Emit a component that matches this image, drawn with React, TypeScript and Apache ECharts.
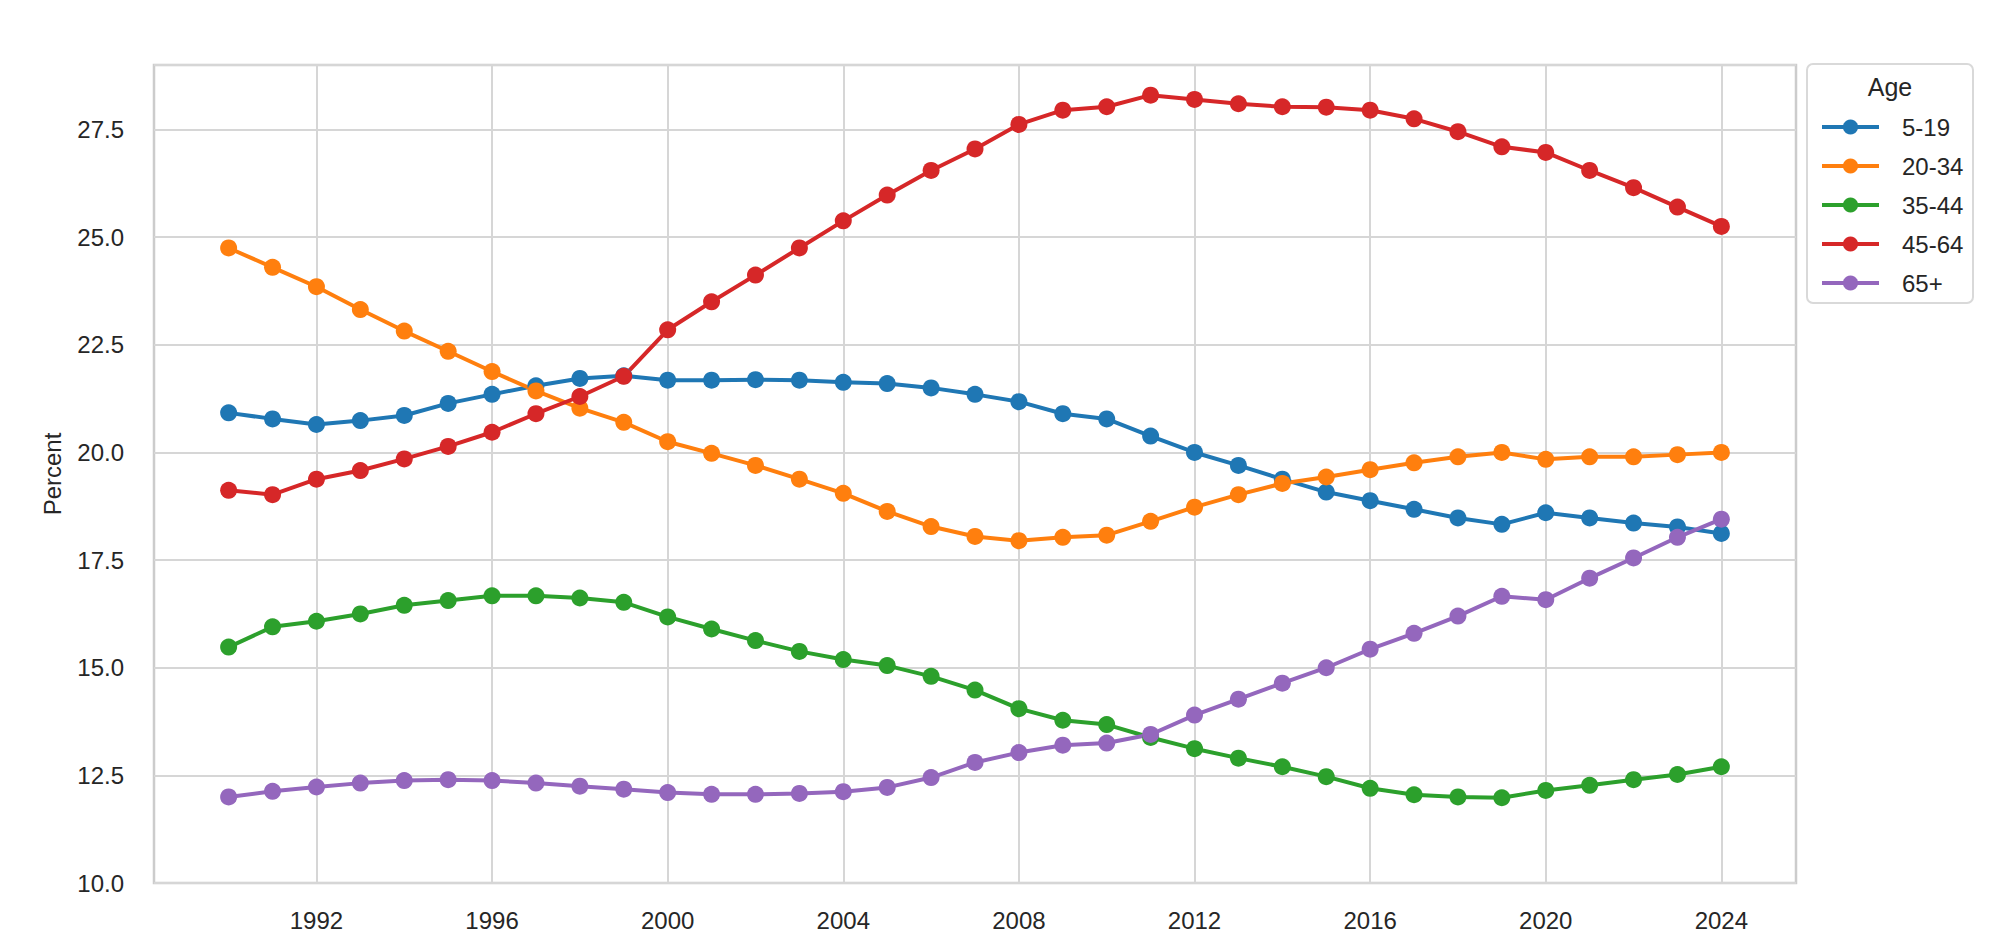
import React, { useEffect, useRef } from "react";
import * as echarts from "echarts";

const years = [1990, 1991, 1992, 1993, 1994, 1995, 1996, 1997, 1998, 1999, 2000, 2001, 2002, 2003, 2004, 2005, 2006, 2007, 2008, 2009, 2010, 2011, 2012, 2013, 2014, 2015, 2016, 2017, 2018, 2019, 2020, 2021, 2022, 2023, 2024];

const age5to19 = [20.92, 20.78, 20.65, 20.74, 20.86, 21.14, 21.35, 21.55, 21.72, 21.78, 21.68, 21.68, 21.69, 21.68, 21.63, 21.6, 21.5, 21.35, 21.18, 20.9, 20.78, 20.38, 20.0, 19.7, 19.38, 19.08, 18.88, 18.68, 18.48, 18.33, 18.6, 18.48, 18.36, 18.27, 18.12];
const age20to34 = [24.75, 24.3, 23.85, 23.32, 22.82, 22.35, 21.88, 21.43, 21.03, 20.7, 20.25, 19.98, 19.7, 19.38, 19.05, 18.63, 18.28, 18.05, 17.95, 18.03, 18.08, 18.4, 18.73, 19.02, 19.28, 19.43, 19.6, 19.76, 19.9, 20.0, 19.84, 19.9, 19.9, 19.95, 20.0];
const age35to44 = [15.48, 15.95, 16.08, 16.25, 16.45, 16.56, 16.67, 16.67, 16.62, 16.52, 16.18, 15.9, 15.63, 15.38, 15.19, 15.05, 14.8, 14.48, 14.05, 13.78, 13.68, 13.38, 13.12, 12.9, 12.7, 12.47, 12.2, 12.05, 12.0, 11.98, 12.15, 12.27, 12.4, 12.52, 12.7];
const age45to64 = [19.12, 19.02, 19.38, 19.58, 19.85, 20.14, 20.47, 20.9, 21.3, 21.77, 22.85, 23.5, 24.12, 24.75, 25.38, 25.98, 26.55, 27.05, 27.62, 27.95, 28.03, 28.3, 28.2, 28.1, 28.03, 28.02, 27.95, 27.75, 27.45, 27.1, 26.97, 26.55, 26.15, 25.7, 25.25];
const age65plus = [12.0, 12.13, 12.23, 12.32, 12.38, 12.4, 12.38, 12.32, 12.25, 12.18, 12.1, 12.06, 12.06, 12.08, 12.12, 12.22, 12.45, 12.8, 13.03, 13.2, 13.25, 13.45, 13.9, 14.27, 14.64, 15.0, 15.43, 15.8, 16.2, 16.66, 16.58, 17.08, 17.55, 18.03, 18.45];

const seriesNames = ["5-19", "20-34", "35-44", "45-64", "65+"];
const seriesValues = [age5to19, age20to34, age35to44, age45to64, age65plus];
const seriesColors = ["#1f77b4", "#ff7f0e", "#2ca02c", "#d62728", "#9467bd"];
const xTicks = [1992, 1996, 2000, 2004, 2008, 2012, 2016, 2020, 2024];
const legendTitle = "Age";
const yAxisTitle = "Percent";

const FONT = "Liberation Sans, Arial, sans-serif";
const TEXT = "#262626";

export default function App() {
  const ref = useRef<HTMLDivElement>(null);
  useEffect(() => {
    if (!ref.current) return;
    const chart = echarts.init(ref.current, undefined, { renderer: "svg" });
    chart.setOption({
      animation: false,
      backgroundColor: "#ffffff",
      textStyle: { fontFamily: FONT },
      grid: {
        left: 154,
        right: 204,
        top: 65,
        bottom: 65,
        show: true,
        borderColor: "#cccccc",
        borderWidth: 2.5,
      },
      xAxis: {
        type: "value",
        min: 1988.3,
        max: 2025.7,
        axisLine: { show: false },
        axisTick: { show: false, customValues: xTicks },
        axisLabel: {
          customValues: xTicks,
          fontSize: 24,
          color: TEXT,
          margin: 25,
          fontFamily: FONT,
          formatter: (v: number) => String(v),
        },
        splitLine: { show: true, lineStyle: { color: "#d6d6d6", width: 2 } },
      },
      yAxis: {
        type: "value",
        min: 10,
        max: 29,
        interval: 2.5,
        axisLine: { show: false },
        axisTick: { show: false },
        axisLabel: {
          fontSize: 24,
          color: TEXT,
          margin: 30,
          showMaxLabel: false,
          fontFamily: FONT,
          formatter: (v: number) => v.toFixed(1),
        },
        splitLine: { show: true, lineStyle: { color: "#d6d6d6", width: 2 } },
      },
      legend: {
        orient: "vertical",
        left: 1815,
        top: 110,
        itemWidth: 57,
        itemHeight: 19,
        itemGap: 15,
        lineStyle: { width: 4 },
        textStyle: { fontSize: 24, color: TEXT, fontFamily: FONT, padding: [0, 0, 0, 18] },
        data: seriesNames,
      },
      graphic: [
        {
          type: "rect",
          shape: { x: 1807, y: 64, width: 166, height: 239, r: 6 },
          style: { fill: "#ffffff", stroke: "#d9d9d9", lineWidth: 2 },
          z: -1,
        },
        {
          type: "text",
          x: 1890,
          y: 87,
          style: {
            text: legendTitle,
            fontSize: 25,
            fill: TEXT,
            fontFamily: FONT,
            align: "center",
            verticalAlign: "middle",
          },
        },
        {
          type: "text",
          x: 52,
          y: 474,
          rotation: Math.PI / 2,
          style: {
            text: yAxisTitle,
            fontSize: 24,
            fill: TEXT,
            fontFamily: FONT,
            align: "center",
            verticalAlign: "middle",
          },
        },
      ],
      series: seriesNames.map((name, i) => ({
        name,
        type: "line",
        data: years.map((y, j) => [y, seriesValues[i][j]]),
        symbol: "circle",
        symbolSize: 17,
        color: seriesColors[i],
        lineStyle: { width: 4, color: seriesColors[i] },
        itemStyle: { color: seriesColors[i] },
      })),
    });
    return () => chart.dispose();
  }, []);
  return (
    <div
      ref={ref}
      style={{ position: "fixed", left: 0, top: 0, width: 2000, height: 948 }}
    />
  );
}
